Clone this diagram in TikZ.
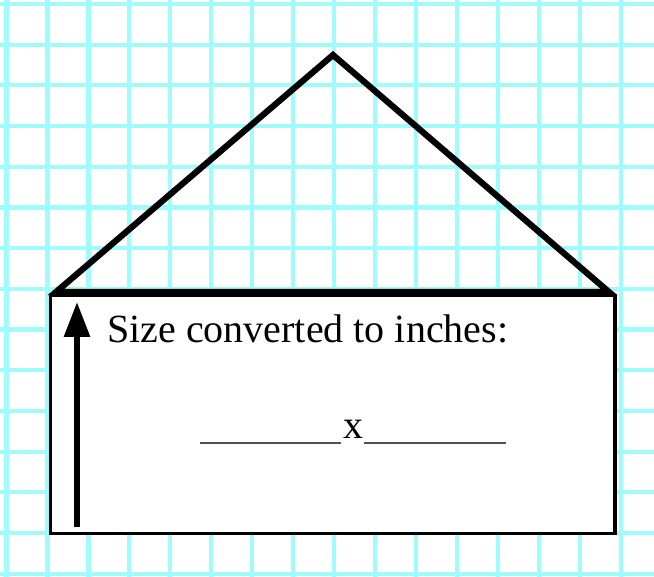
\documentclass[tikz,border=0pt]{standalone}
\usepackage{fontspec}
\setmainfont{Liberation Serif}
\usetikzlibrary{arrows.meta}
\definecolor{gridcyan}{RGB}{160,252,252}
\definecolor{blankgray}{RGB}{80,80,80}
\tikzset{
  gridline/.style={draw=gridcyan, line width=4.2pt},
  outline/.style={draw=black, line width=6.2pt, line join=miter},
  boxline/.style={draw=black, line width=3.6pt, fill=white},
  blank/.style={draw=blankgray, line width=2.4pt},
  label/.style={inner sep=0pt, font=\fontsize{40}{42}\selectfont},
}
\begin{document}
\begin{tikzpicture}[x=1pt,y=-1pt]
\useasboundingbox[fill=white] (0,0) rectangle (654,577);
% grid
\foreach \k in {0,...,15} {
  \draw[gridline] ({6.5+40.95*\k},0) -- ({6.5+40.95*\k},577);
}
\foreach \k in {0,...,14} {
  \draw[gridline] (0,{4+40.7*\k}) -- (654,{4+40.7*\k});
}
% box
\draw[boxline] (50.5,295.5) rectangle (615,533.5);
% roof
\coordinate (L) at (56,292);
\coordinate (A) at (333,55);
\coordinate (R) at (609,292);
\draw[outline] (L) -- (A) -- (R) -- cycle;
% arrow
\coordinate (arrowfoot) at (77,527);
\coordinate (arrowtip) at (77,302);
\draw[line width=6pt, -{Triangle[width=25pt,length=35pt]}] (arrowfoot) -- (arrowtip);
% text
\node[label, anchor=base west] (title) at (107,343) {Size converted to inches:};
\node[label, anchor=base] (times) at (353,439) {x};
\coordinate (b1s) at (200,443);
\coordinate (b1e) at (341,443);
\coordinate (b2s) at (364,443);
\coordinate (b2e) at (506,443);
\draw[blank] (b1s) -- (b1e);
\draw[blank] (b2s) -- (b2e);
\end{tikzpicture}
\end{document}
